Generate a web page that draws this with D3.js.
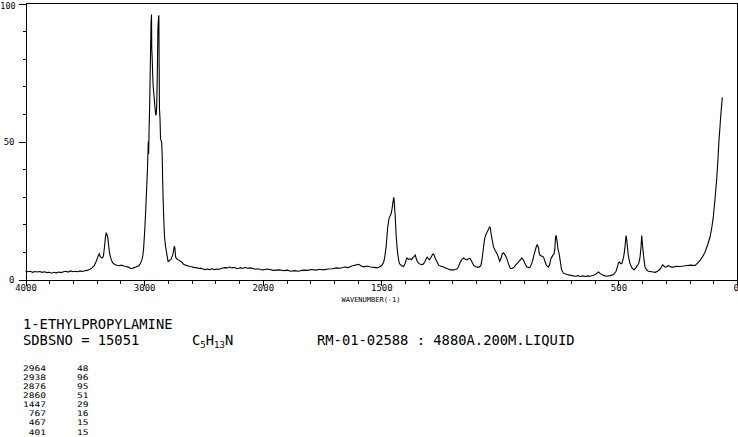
<!DOCTYPE html>
<html>
<head>
<meta charset="utf-8">
<script src="https://cdn.jsdelivr.net/npm/d3@7"></script>
<style>
  html, body { margin: 0; padding: 0; background: #fff; }
  svg { display: block; }
  text { font-family: "DejaVu Sans Mono", monospace; fill: #000; }
</style>
</head>
<body>
<svg id="chart" width="738" height="437"></svg>
<script>
// ---- data ----
const wavenumbers = [4000,3980,3960,3940,3920,3900,3880,3860,3840,3820,3800,3780,3760,3740,3720,3700,3680,3660,3640,3620,3600,3580,3560,3540,3520,3500,3480,3460,3440,3420,3405,3395,3385,3378,3370,3360,3350,3343,3335,3327,3320,3315,3307,3300,3293,3285,3278,3268,3256,3240,3227,3210,3190,3171,3150,3129,3115,3101,3085,3070,3059,3045,3031,3020,3012,3005,2997,2990,2984,2978,2972,2968,2965,2964,2962,2958,2954,2950,2946,2942,2938,2936,2932,2928,2924,2918,2912,2906,2902,2898,2894,2889,2884,2880,2876,2874,2871,2866,2862,2858,2852,2848,2844,2840,2834,2828,2820,2814,2806,2798,2790,2782,2774,2766,2758,2752,2746,2741,2735,2728,2715,2700,2685,2670,2652,2635,2615,2600,2581,2560,2540,2525,2505,2485,2469,2450,2430,2410,2385,2365,2345,2320,2300,2280,2260,2240,2220,2200,2188,2170,2150,2130,2104,2085,2060,2040,2020,2000,1980,1954,1930,1910,1895,1883,1865,1850,1830,1813,1795,1775,1760,1743,1725,1705,1690,1673,1655,1640,1625,1617,1605,1595,1585,1574,1560,1546,1530,1518,1504,1496,1490,1485,1480,1476,1473,1468,1465,1459,1455,1452,1448,1446,1444,1442,1440,1437,1434,1431,1427,1423,1415,1406,1400,1395,1392,1385,1378,1373,1368,1362,1357,1353,1350,1343,1336,1328,1322,1315,1310,1307,1302,1298,1292,1286,1282,1277,1272,1265,1258,1248,1237,1225,1215,1209,1195,1188,1181,1175,1170,1167,1160,1153,1146,1139,1132,1125,1118,1111,1102,1094,1087,1080,1075,1069,1064,1058,1050,1044,1041,1035,1027,1020,1012,1006,1001,995,990,985,979,973,965,956,948,940,935,925,915,907,900,893,886,879,872,865,860,855,848,843,838,834,830,822,816,810,803,795,790,785,781,775,771,768,765,763,759,755,750,746,740,732,718,700,690,680,670,660,650,640,630,619,605,595,588,584,578,570,560,549,535,521,510,503,500,495,490,486,480,476,471,468,465,462,458,451,443,434,427,420,414,409,405,402,399,395,391,388,381,374,360,345,335,324,318,314,308,303,296,290,285,277,268,255,240,225,212,195,177,165,156,145,135,124,114,106,100,93,86,80,76,72,69,65,62];
const intensities = [3.0,2.8,3.0,2.6,2.9,2.7,2.9,2.6,2.8,2.5,2.6,2.3,2.6,2.4,2.7,2.5,2.8,3.0,2.7,3.1,2.8,3.0,2.8,3.1,2.9,3.2,3.3,3.6,4.2,5.0,6.5,7.6,8.8,9.3,8.3,7.9,7.8,8.6,11.5,15,16.8,16.5,15.5,12.5,10.0,8.3,7.3,6.3,5.7,5.3,5.1,5.0,5.2,4.9,4.7,4.4,4.0,4.0,4.3,4.5,4.7,5.0,5.8,7.0,8.5,11,16.5,22,28,34,40,46,50,47,45.5,55,62,72,82,93,96,84,80,74,70,67,64,61,59.5,60,63,75,91,94,95.7,80,62,58,51,50.5,49.5,45,36,29,21,15.3,12,10.5,8.5,6.5,6.7,7.1,7.3,8.2,9.0,10.5,12.1,11.5,8.2,7.6,7.2,6.8,6.4,5.6,5.2,5.0,4.7,4.6,4.4,4.3,4.0,4.1,3.8,3.6,3.8,3.6,3.9,3.6,3.8,3.7,4.1,4.3,4.2,4.5,4.2,4.4,3.9,4.1,4.3,4.0,4.4,4.1,4.2,4.0,3.7,3.9,3.6,3.5,3.8,3.3,3.5,3.2,3.4,3.0,3.2,3.0,3.4,3.3,3.6,3.4,3.7,3.5,3.8,3.9,4.2,4.1,4.5,4.3,4.9,5.1,5.3,5.5,4.9,4.6,4.9,4.5,4.4,4.2,4.7,5.3,6.3,8.5,11.8,16,19,22,22.6,23.8,25.5,27.4,29.8,29,25.5,23.8,20,15.3,12,9.3,7.0,5.7,5.0,4.7,5.8,7.2,7.8,7.3,7.5,7.2,7.8,8.3,8.9,7.6,6.9,5.9,5.5,5.4,5.7,6.7,7.7,8.1,7.6,7.1,7.8,8.8,9.3,8.8,7.5,6.3,5.1,4.8,4.5,4.0,3.7,3.5,3.5,3.6,3.8,4.6,5.7,6.3,7.3,7.8,7.3,7.1,7.6,7.5,6.4,5.1,4.6,4.5,4.5,5.1,7.5,11.8,15,16.5,17.8,19,18.8,15.5,11.8,10.5,9.3,8,6.6,7.8,9.3,9.7,9.0,8.1,6,4.0,4.0,4.5,5.1,6.0,7.0,7.8,7.0,5.5,4.5,4.3,4.5,6.0,7.5,9.3,11.5,12.6,11.8,9.5,8.7,8.4,8.1,6.5,5.0,4.5,5.5,7.5,8.1,9.0,9.3,11.5,15.5,16.0,14,11,9.3,7.0,3.5,2.3,1.8,1.5,1.3,1.2,1.4,1.1,1.3,1.1,1.3,1.2,1.5,2.0,2.5,2.7,2.2,1.8,1.4,1.2,1.4,1.8,3.0,5.0,6.0,6.3,5.7,5.7,7.5,9.3,13,15.9,14.5,11.7,8.5,5.7,4.2,3.5,4.2,5.1,6.0,8.1,11.5,15.9,13,9.3,6.5,4.5,3.5,3.0,2.8,2.6,3.0,3.8,4.6,5.3,4.9,4.5,4.6,5.0,4.9,4.5,4.5,4.8,4.7,4.9,5.1,5.2,5.1,6.0,6.9,8.3,9.9,12.5,15.3,19,22.6,29,35.9,44,50.4,55,58.8,63,66];

const xLabelValues = [4000, 3000, 2000, 1500, 500, 0];
const yLabelValues = [0, 50, 100];
const peakWavenumbers = [2964, 2938, 2876, 2860, 1447, 767, 467, 401];
const peakIntensities = [48, 96, 95, 51, 29, 16, 15, 15];

const compoundName = "1-ETHYLPROPYLAMINE";
const sdbsLine = "SDBSNO = 15051";
const conditionsLine = "RM-01-02588 : 4880A.200M.LIQUID";
const xAxisTitle = "WAVENUMBER(-1)";

// ---- drawing ----
const svg = d3.select("#chart");
const g = svg.append("g").attr("transform", "translate(0.5,0.5)");

const x = d3.scaleLinear().domain([4000, 2000, 0]).range([25, 262.3, 736.5]);
const y = d3.scaleLinear().domain([0, 100]).range([279, 3]);
const fmt = d3.format("d");

// frame: top and right
g.append("path")
  .attr("d", `M${x(4000)},${y(100)}H${x(0)}V${y(0)}`)
  .attr("fill", "none").attr("stroke", "#000").attr("shape-rendering", "crispEdges");

// bottom axis: minor ticks
const minorX = d3.range(4000, 2000, -200).concat(d3.range(2000, -1, -100));
const bottomMinor = d3.axisBottom(x).tickValues(minorX).tickSize(4).tickSizeOuter(0).tickFormat("");
g.append("g").attr("transform", `translate(0,${y(0)})`).call(bottomMinor)
  .call(s => s.selectAll("path,line").attr("stroke", "#000").attr("shape-rendering", "crispEdges"));
// bottom axis: major ticks & labels
const bottomMajor = d3.axisBottom(x).tickValues(xLabelValues).tickSize(6).tickSizeOuter(0).tickPadding(2).tickFormat(fmt);
g.append("g").attr("transform", `translate(0,${y(0)})`).call(bottomMajor)
  .call(s => s.select(".domain").remove())
  .call(s => s.selectAll("line").attr("stroke", "#000").attr("shape-rendering", "crispEdges"))
  .call(s => s.selectAll("text").attr("font-size", 9).attr("font-family", "DejaVu Sans Mono").attr("fill", "#000").attr("dy", "0.35em"))
  .call(s => s.selectAll("text").filter(d => d === 0).attr("text-anchor", "end").attr("x", 1.5));

// left axis
const minorY = d3.range(0, 101, 10);
const leftMinor = d3.axisLeft(y).tickValues(minorY).tickSize(3).tickSizeOuter(0).tickFormat("");
g.append("g").attr("transform", `translate(${x(4000)},0)`).call(leftMinor)
  .call(s => s.selectAll("path,line").attr("stroke", "#000").attr("shape-rendering", "crispEdges"));
const leftMajor = d3.axisLeft(y).tickValues(yLabelValues).tickSize(7).tickSizeOuter(0).tickPadding(4).tickFormat(fmt);
g.append("g").attr("transform", `translate(${x(4000)},0)`).call(leftMajor)
  .call(s => s.select(".domain").remove())
  .call(s => s.selectAll("line").attr("stroke", "#000").attr("shape-rendering", "crispEdges"))
  .call(s => s.selectAll("text").attr("font-size", 9).attr("font-family", "DejaVu Sans Mono").attr("fill", "#000"))
  .call(s => s.selectAll("text").filter(d => d === 100).attr("dy", "0.6em").attr("x", -10).attr("font-size", 8.4));

// axis title
svg.append("text").attr("x", 371).attr("y", 302).attr("text-anchor", "middle")
  .attr("font-size", 7).text(xAxisTitle);

// spectrum
const pts = wavenumbers.map((w, i) => [w, intensities[i]]);
const line = d3.line().x(d => x(d[0])).y(d => y(d[1]));
g.append("path").datum(pts).attr("d", line)
  .attr("fill", "none").attr("stroke", "#000").attr("stroke-width", 1.1);

// text block
const fs = 13.8;
svg.append("text").attr("x", 23).attr("y", 329).attr("font-size", fs).text(compoundName);
svg.append("text").attr("x", 23).attr("y", 345).attr("font-size", fs).text(sdbsLine);
const formula = svg.append("text").attr("x", 192).attr("y", 345).attr("font-size", fs);
formula.append("tspan").text("C");
formula.append("tspan").attr("font-size", 9).attr("dy", 3).text("5");
formula.append("tspan").attr("dy", -3).text("H");
formula.append("tspan").attr("font-size", 9).attr("dy", 3).text("13");
formula.append("tspan").attr("dy", -3).text("N");
svg.append("text").attr("x", 317).attr("y", 345).attr("font-size", fs).text(conditionsLine);

// peak table
const rows = svg.append("g");
const charW = 5.75;
peakWavenumbers.forEach((w, i) => {
  const yy = 370.5 + i * 9.15;
  const s1 = fmt(w), s2 = fmt(peakIntensities[i]);
  rows.append("text").attr("x", 46).attr("y", yy).attr("text-anchor", "end").attr("font-size", 7.6)
    .attr("textLength", s1.length * charW).attr("lengthAdjust", "spacingAndGlyphs").text(s1);
  rows.append("text").attr("x", 77).attr("y", yy).attr("font-size", 7.6)
    .attr("textLength", s2.length * charW).attr("lengthAdjust", "spacingAndGlyphs").text(s2);
});
</script>
</body>
</html>
